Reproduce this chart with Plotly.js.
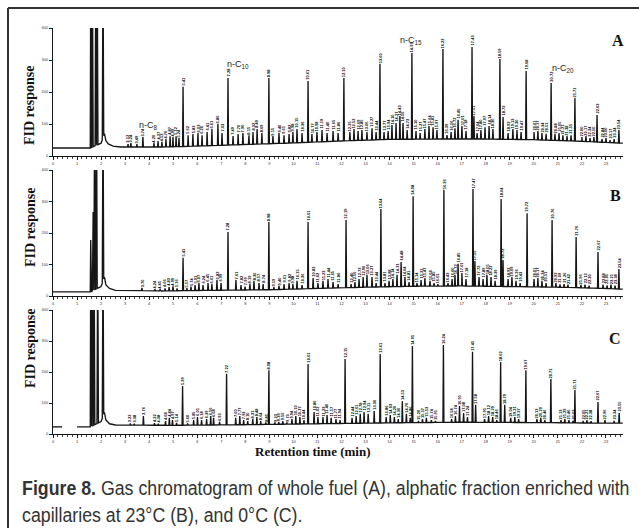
<!DOCTYPE html>
<html><head><meta charset="utf-8">
<script src="https://cdn.plot.ly/plotly-3.0.1.min.js"></script>
<style>html,body{margin:0;padding:0;background:#fff}#chart{width:639px;height:528px}</style>
</head><body><div id="chart"></div>
<script>
// ---------- Data (retention time in min, FID response) ----------
// Panel A: whole fuel
const aBaseT = [0, 1.55, 2.0, 2.14, 2.2, 2.3, 2.5, 2.8, 4.5, 6, 8, 10, 12, 14, 16, 18, 20, 22, 23.7];
const aBaseV = [25, 25, 40, 70, 48, 38, 31, 28, 28, 31, 36, 41, 47, 52, 53, 53, 51, 46, 40];
const aSolventT = [1.57, 1.64, 1.78, 1.84, 2.08];
const aSolventV = [600, 600, 600, 600, 600];
const aMajorT = [3.74, 5.41, 7.28, 8.98, 10.61, 12.10, 13.60, 14.93, 16.22, 17.43, 18.59, 19.68, 20.72, 21.71, 22.63, 23.54];
const aMajorV = [59, 216, 244, 244, 234, 244, 288, 322, 334, 341, 303, 266, 228, 181, 128, 81];
const aMinorT = [3.12, 3.24, 3.49, 4.20, 4.37, 4.53, 4.70, 4.87, 4.99, 5.12, 5.24, 5.62, 5.82, 6.03, 6.20, 6.41, 6.61, 6.86, 7.03, 7.49, 7.70, 7.90, 8.15, 8.32, 8.49, 8.69, 9.15, 9.40, 9.61, 9.82, 9.98, 10.15, 10.36, 10.77, 10.98, 11.19, 11.40, 11.65, 11.86, 12.35, 12.52, 12.69, 12.85, 13.06, 13.27, 13.44, 13.77, 13.94, 14.10, 14.27, 14.43, 14.56, 14.73, 15.10, 15.27, 15.47, 15.64, 15.81, 15.97, 16.39, 16.56, 16.72, 16.85, 17.01, 17.18, 17.51, 17.64, 17.80, 17.97, 18.14, 18.30, 18.72, 18.93, 19.13, 19.30, 19.47, 20.01, 20.17, 20.34, 20.51, 20.88, 21.05, 21.21, 21.38, 21.55, 22.00, 22.17, 22.34, 22.50, 22.84, 23.00, 23.17, 23.34];
const aMinorV = [37, 40, 37, 40, 47, 44, 53, 62, 59, 62, 56, 65, 69, 72, 65, 75, 84, 100, 72, 62, 69, 72, 65, 75, 84, 72, 62, 72, 65, 69, 75, 84, 72, 69, 75, 81, 72, 78, 72, 75, 84, 78, 81, 75, 87, 75, 75, 78, 97, 103, 125, 103, 81, 78, 72, 84, 94, 90, 81, 65, 75, 87, 113, 94, 78, 125, 72, 81, 90, 94, 84, 122, 72, 84, 81, 75, 75, 78, 72, 69, 69, 72, 65, 62, 65, 59, 62, 56, 59, 53, 56, 50, 53];

// Panel B: aliphatic fraction, capillaries at 23 °C
const bBaseT = [0, 1.55, 2.0, 2.14, 2.2, 2.35, 2.6, 4.5, 6.5, 9, 11, 13, 15, 17, 19, 21, 22.5, 23.7];
const bBaseV = [13, 13, 30, 60, 35, 24, 18, 16, 18, 20, 24, 28, 31, 32, 30, 28, 25, 22];
const bSolventT = [1.57, 1.67, 1.73, 1.81, 2.08];
const bSolventV = [178, 267, 600, 600, 600];
const bMajorT = [3.70, 5.41, 7.28, 8.98, 10.61, 12.19, 13.64, 14.98, 16.26, 17.47, 18.64, 19.72, 20.76, 21.76, 22.67, 23.54];
const bMajorV = [26, 121, 203, 235, 235, 241, 276, 317, 337, 340, 308, 263, 241, 187, 140, 86];
const bMinorT = [4.24, 4.45, 4.66, 4.83, 4.99, 5.16, 5.57, 5.74, 5.91, 6.07, 6.24, 6.45, 6.61, 6.82, 6.99, 7.61, 7.82, 7.99, 8.19, 8.36, 8.57, 8.74, 9.19, 9.40, 9.61, 9.82, 9.98, 10.15, 10.36, 10.82, 11.02, 11.23, 11.44, 11.65, 11.86, 12.40, 12.56, 12.73, 12.90, 13.06, 13.27, 13.44, 13.81, 13.98, 14.14, 14.31, 14.48, 14.64, 14.81, 15.14, 15.31, 15.47, 15.68, 15.85, 16.01, 16.43, 16.60, 16.72, 16.85, 17.01, 17.18, 17.55, 17.72, 17.89, 18.05, 18.22, 18.39, 18.72, 18.93, 19.09, 19.26, 19.43, 20.01, 20.17, 20.34, 20.51, 20.92, 21.09, 21.26, 21.42, 21.96, 22.13, 22.30, 22.88, 23.05, 23.21, 23.38];
const bMinorV = [22, 21, 24, 28, 31, 24, 25, 30, 35, 41, 35, 41, 38, 51, 41, 51, 35, 30, 38, 48, 41, 38, 28, 32, 38, 41, 38, 48, 35, 57, 41, 48, 54, 44, 38, 38, 44, 54, 60, 67, 60, 41, 41, 48, 54, 67, 108, 60, 44, 41, 51, 57, 48, 41, 38, 41, 54, 67, 102, 73, 54, 111, 60, 54, 67, 60, 48, 114, 54, 60, 48, 41, 54, 57, 48, 41, 41, 37, 38, 36, 35, 36, 33, 36, 34, 36, 33];

// Panel C: aliphatic fraction, capillaries at 0 °C
const cBaseT = [0, 0.38, 0.6, 1.0, 1.55, 2.0, 2.14, 2.2, 2.35, 2.6, 5, 8, 11, 14, 17, 20, 23, 23.7];
const cBaseV = [23, 23, null, 23, 23, 40, 70, 45, 33, 29, 28, 30, 33, 36, 38, 37, 35, 35];
const cSolventT = [1.57, 1.63, 1.71, 1.86, 2.08];
const cSolventV = [600, 600, 600, 600, 600];
const cMajorT = [3.76, 5.39, 7.22, 8.98, 10.61, 12.15, 13.61, 14.95, 16.24, 17.45, 18.62, 19.67, 20.71, 21.71, 22.67, 23.55];
const cMajorV = [58, 155, 194, 206, 226, 242, 258, 284, 287, 265, 232, 206, 177, 142, 103, 68];
const cMinorT = [3.22, 3.38, 4.22, 4.38, 4.68, 4.84, 4.97, 5.14, 5.60, 5.85, 6.01, 6.18, 6.39, 6.56, 6.68, 6.93, 7.60, 7.77, 7.93, 8.10, 8.31, 8.48, 8.64, 8.85, 9.23, 9.39, 9.56, 9.73, 9.94, 10.10, 10.27, 10.44, 10.86, 11.02, 11.23, 11.40, 11.57, 11.77, 11.94, 12.44, 12.61, 12.78, 12.94, 13.11, 13.36, 13.86, 14.03, 14.20, 14.36, 14.53, 14.70, 14.86, 15.20, 15.37, 15.53, 15.74, 15.91, 16.58, 16.74, 16.91, 17.08, 17.24, 17.58, 17.95, 18.12, 18.29, 18.46, 18.79, 19.04, 19.21, 19.37, 20.13, 20.29, 20.46, 21.13, 21.29, 21.46, 21.63, 22.05, 22.21, 22.38, 22.96, 23.34];
const cMinorV = [34, 33, 35, 33, 42, 52, 45, 36, 34, 45, 55, 45, 48, 58, 52, 39, 52, 58, 45, 42, 48, 55, 42, 37, 37, 39, 42, 37, 48, 58, 55, 45, 71, 55, 55, 61, 52, 48, 45, 52, 58, 65, 71, 65, 74, 55, 61, 55, 48, 106, 65, 52, 42, 48, 52, 45, 42, 48, 58, 90, 68, 55, 94, 48, 58, 55, 45, 94, 52, 55, 48, 48, 52, 45, 45, 48, 45, 42, 42, 45, 41, 45, 42];

// Axis ticks and text
const xTickVals = [0,1,2,3,4,5,6,7,8,9,10,11,12,13,14,15,16,17,18,19,20,21,22,23];
const yTickVals = [0, 100, 200, 300, 400];
const panelLetters = ["A", "B", "C"];
const alkaneLabels = ["n-C<sub>8</sub>", "n-C<sub>10</sub>", "n-C<sub>15</sub>", "n-C<sub>20</sub>"];
const yTitle = "FID response";
const xTitle = "Retention time (min)";
const caption1 = "<b>Figure 8.</b> Gas chromatogram of whole fuel (A), alphatic fraction enriched with";
const caption2 = "capillaries at 23°C (B), and 0°C (C).";

// ---------- Helpers ----------
const W = 639, H = 528;
const px = x => x / W, py = y => 1 - y / H;
function baseAt(bt, bv, t) {
  for (let i = 0; i < bt.length - 1; i++) {
    if (t >= bt[i] && t <= bt[i + 1]) {
      const a = bv[i], b = bv[i + 1];
      if (a == null) return b; if (b == null) return a;
      return a + (b - a) * (t - bt[i]) / (bt[i + 1] - bt[i]);
    }
  }
  return bv[bv.length - 1];
}
function chromatogram(bt, bv, peakSets) {
  const pts = bt.map((t, i) => [t, bv[i]]);
  peakSets.forEach(([ts, vs, w]) => ts.forEach((t, i) => {
    pts.push([t - w, baseAt(bt, bv, t - w)]);
    pts.push([t, vs[i]]);
    pts.push([t + w, baseAt(bt, bv, t + w)]);
  }));
  pts.sort((p, q) => p[0] - q[0]);
  return { x: pts.map(p => p[0]), y: pts.map(p => p[1]) };
}

const panels = [
  { b: [aBaseT, aBaseV], s: [aSolventT, aSolventV], M: [aMajorT, aMajorV], m: [aMinorT, aMinorV], top: 28, bot: 156 },
  { b: [bBaseT, bBaseV], s: [bSolventT, bSolventV], M: [bMajorT, bMajorV], m: [bMinorT, bMinorV], top: 170, bot: 296 },
  { b: [cBaseT, cBaseV], s: [cSolventT, cSolventV], M: [cMajorT, cMajorV], m: [cMinorT, cMinorV], top: 310, bot: 434 }
];

const traces = [], annotations = [], layout = {
  width: W, height: H, margin: { l: 0, r: 0, t: 0, b: 0 },
  paper_bgcolor: "#fff", plot_bgcolor: "#fff", showlegend: false,
  font: { family: "Liberation Sans, Arial, sans-serif", color: "#222" }
};
const ink = "#161616";
panels.forEach((p, k) => {
  const sfx = k === 0 ? "" : String(k + 1);
  const tr = chromatogram(p.b[0], p.b[1], [[p.s[0], p.s[1], 0.03], [p.M[0], p.M[1], 0.02], [p.m[0], p.m[1], 0.02]]);
  traces.push({ type: "scatter", mode: "lines", x: tr.x, y: tr.y, xaxis: "x" + sfx, yaxis: "y" + sfx,
    line: { color: ink, width: 1.35 }, connectgaps: false, hoverinfo: "skip" });
  layout["xaxis" + sfx] = {
    domain: [px(53), px(623)], range: [0, 23.71], anchor: "y" + sfx,
    showline: true, linecolor: ink, linewidth: 1, ticks: "outside", ticklen: 3, tickwidth: 1, tickcolor: ink,
    tickmode: "array", tickvals: xTickVals, ticktext: xTickVals.map(String),
    tickfont: { size: 4, color: "#333" }, showgrid: false, zeroline: false,
    minor: { ticks: "outside", ticklen: 1.5, dtick: 0.2, tickcolor: "#444", tickwidth: 1, showgrid: false }
  };
  layout["yaxis" + sfx] = {
    domain: [py(p.bot), py(p.top)], range: [0, 400], anchor: "x" + sfx,
    showline: true, linecolor: ink, linewidth: 1, ticks: "outside", ticklen: 3, tickwidth: 1, tickcolor: ink,
    tickmode: "array", tickvals: yTickVals, ticktext: yTickVals.map(String),
    tickfont: { size: 4, color: "#333" }, showgrid: false, zeroline: false
  };
  // tiny retention-time labels on every resolved peak
  [p.M, p.m].forEach(([ts, vs]) => ts.forEach((t, i) => {
    annotations.push({ xref: "x" + sfx, yref: "y" + sfx, x: t, y: vs[i], text: "<b>" + t.toFixed(2) + "</b>",
      showarrow: false, textangle: -90, xanchor: "center", yanchor: "bottom", borderpad: 0,
      font: { size: 4, color: "#000", family: "Liberation Sans, Arial" } });
  }));
});

// titles, letters, compound labels
const yTitleY = [106, 228, 349];
yTitleY.forEach(y => annotations.push({ xref: "paper", yref: "paper", x: px(30), y: py(y), text: "<b>" + yTitle + "</b>",
  showarrow: false, textangle: -90, xanchor: "center", yanchor: "middle",
  font: { family: "Liberation Serif, Times New Roman, serif", size: 14, color: "#111" } }));
[[618, 40], [615, 195], [615, 338]].forEach(([x, y], i) => annotations.push({ xref: "paper", yref: "paper",
  x: px(x), y: py(y), text: "<b>" + panelLetters[i] + "</b>", showarrow: false, xanchor: "center", yanchor: "middle",
  font: { family: "Liberation Serif, Times New Roman, serif", size: 16, color: "#111" } }));
[[148, 125], [238, 65], [411, 40], [563, 69]].forEach(([x, y], i) => annotations.push({ xref: "paper", yref: "paper",
  x: px(x), y: py(y), text: alkaneLabels[i], showarrow: false, xanchor: "center", yanchor: "middle",
  font: { family: "Liberation Sans, Arial", size: 9, color: "#222" } }));
annotations.push({ xref: "paper", yref: "paper", x: px(313), y: py(451), text: "<b>" + xTitle + "</b>", showarrow: false,
  xanchor: "center", yanchor: "middle", font: { family: "Liberation Serif, Times New Roman, serif", size: 13, color: "#111" } });
// captions: laid out centred, then condensed to the reference's narrow face
const capFont = { family: "Liberation Sans, Arial, sans-serif", size: 21, color: "#333" };
annotations.push({ xref: "paper", yref: "paper", x: px(326), y: py(487), text: caption1, showarrow: false,
  xanchor: "center", yanchor: "middle", font: capFont });
annotations.push({ xref: "paper", yref: "paper", x: px(326), y: py(514), text: caption2, showarrow: false,
  xanchor: "center", yanchor: "middle", font: capFont });
layout.annotations = annotations;
layout.shapes = [
  { type: "line", xref: "paper", yref: "paper", x0: px(8), x1: 1, y0: py(8), y1: py(8), line: { color: "#333", width: 2 } },
  { type: "line", xref: "paper", yref: "paper", x0: px(8), x1: px(8), y0: 0, y1: py(8), line: { color: "#333", width: 2 } }
];
Plotly.newPlot("chart", traces, layout, { staticPlot: true, displayModeBar: false }).then(gd => {
  // condense caption lines horizontally (narrow typeface in the original) and left-align them at x = 22 px
  const texts = Array.from(gd.querySelectorAll("text.annotation-text"));
  const sx = 0.845, left = 22;
  texts.filter(t => t.textContent.startsWith("Figure 8.") || t.textContent.startsWith("capillaries")).forEach(t => {
    const bb = t.getBBox();
    const pctm = t.parentNode.getCTM();
    const localLeft = left - (pctm ? pctm.e : 0);
    const prev = t.getAttribute("transform") || "";
    t.setAttribute("transform", "translate(" + localLeft.toFixed(2) + ",0) scale(" + sx + ",1) translate(" + (-bb.x).toFixed(2) + ",0) " + prev);
    const rect = t.parentNode.querySelector("rect.bg");
    if (rect) {
      rect.setAttribute("x", (localLeft - 1).toFixed(1));
      rect.setAttribute("width", (bb.width * sx + 2).toFixed(1));
    }
  });
});
</script></body></html>
